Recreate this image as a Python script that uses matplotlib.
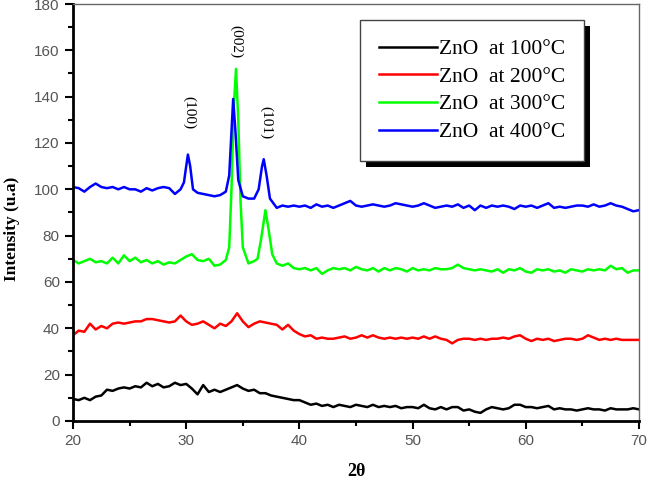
import matplotlib
matplotlib.use('Agg')
import matplotlib.pyplot as plt
from matplotlib.patches import Rectangle
from matplotlib.ticker import MultipleLocator
from matplotlib.transforms import IdentityTransform

# 2theta grid, and the four patterns
two_theta = [20, 20.5, 21, 21.5, 22, 22.5, 23, 23.5, 24, 24.5, 25, 25.5, 26, 26.5, 27, 27.5,
             28, 28.5, 29, 29.5, 30, 30.5, 31, 31.5, 32, 32.5, 33, 33.5, 34, 34.5, 35, 35.5,
             36, 36.5, 37, 37.5, 38, 38.5, 39, 39.5, 40, 40.5, 41, 41.5, 42, 42.5, 43, 43.5,
             44, 44.5, 45, 45.5, 46, 46.5, 47, 47.5, 48, 48.5, 49, 49.5, 50, 50.5, 51, 51.5,
             52, 52.5, 53, 53.5, 54, 54.5, 55, 55.5, 56, 56.5, 57, 57.5, 58, 58.5, 59, 59.5,
             60, 60.5, 61, 61.5, 62, 62.5, 63, 63.5, 64, 64.5, 65, 65.5, 66, 66.5, 67, 67.5,
             68, 68.5, 69, 69.5, 70]

zno_100 = [9.5, 9, 10, 9, 10.5, 11, 13.5, 13, 14, 14.5, 14, 15, 14.5, 16.5, 15, 16,
           14.5, 15, 16.5, 15.5, 16, 14, 11.5, 15.5, 12.5, 13.5, 12.5, 13.5, 14.5, 15.5, 14, 13,
           13.5, 12, 12, 11, 10.5, 10, 9.5, 9, 9, 8, 7, 7.5, 6.5, 7, 6, 7,
           6.5, 6, 7, 6.5, 6, 7, 6, 6.5, 6, 6.5, 5.5, 6, 6, 5.5, 7, 5.5,
           5, 6, 5, 6, 6, 4.5, 5, 4, 3.5, 5, 6, 5.5, 5, 5.5, 7, 7,
           6, 6, 5.5, 6, 6.5, 5, 5.5, 5, 5, 4.5, 5, 5.5, 5, 5, 4.5, 5.5,
           5, 5, 5, 5.5, 5]

zno_200 = [37, 39, 38.5, 42, 39.5, 41, 40, 42, 42.5, 42, 42.5, 43, 43, 44, 44, 43.5,
           43, 42.5, 43, 45.5, 43, 41.5, 42, 43, 41.5, 40, 42, 41, 43, 46.5, 43, 40.5,
           42, 43, 42.5, 42, 41.5, 39.5, 41.5, 39, 37.5, 36.5, 37, 35.5, 36, 35.5, 35.5, 36,
           36.5, 35.5, 36, 37, 36, 37, 36, 35.5, 36, 35.5, 36, 35.5, 36, 35.5, 36.5, 35.5,
           36.5, 35.5, 35, 33.5, 35, 35.5, 35.5, 35, 35.5, 35, 35.5, 35.5, 36, 35.5, 36.5, 37,
           35.5, 34.5, 35.5, 35, 35.5, 34.5, 35, 35.5, 35.5, 35, 35.5, 37, 36, 35, 35.5, 35,
           35.5, 35, 35, 35, 35]

# 300 and 400 degC carry the peaks, so they get extra points around them
two_theta_300 = [20, 20.5, 21, 21.5, 22, 22.5, 23, 23.5, 24, 24.5, 25, 25.5, 26, 26.5, 27, 27.5,
                 28, 28.5, 29, 29.5, 30, 30.5, 31, 31.5, 32, 32.5, 33, 33.5, 33.8, 34.0, 34.2, 34.4,
                 34.6, 34.8, 35.0, 35.5, 36, 36.3, 36.6, 37.0, 37.3, 37.6, 38, 38.5, 39, 39.5,
                 40, 40.5, 41, 41.5, 42, 42.5, 43, 43.5, 44, 44.5, 45, 45.5, 46, 46.5, 47, 47.5,
                 48, 48.5, 49, 49.5, 50, 50.5, 51, 51.5, 52, 52.5, 53, 53.5, 54, 54.5, 55, 55.5,
                 56, 56.5, 57, 57.5, 58, 58.5, 59, 59.5, 60, 60.5, 61, 61.5, 62, 62.5, 63, 63.5,
                 64, 64.5, 65, 65.5, 66, 66.5, 67, 67.5, 68, 68.5, 69, 69.5, 70]
zno_300 = [69.5, 68, 69, 70, 68.5, 69, 68, 70.5, 68, 71.5, 69, 70.5, 68.5, 69.5, 68, 69,
           67.5, 68.5, 68, 69.5, 71, 72, 69.5, 69, 70, 67, 67.5, 69.5, 75, 100, 135, 152,
           130, 95, 75, 68, 69, 70, 78, 91, 82, 72, 68, 67, 68, 66,
           65.5, 66, 65, 66, 63.5, 65, 66, 65.5, 66, 65, 66.5, 65.5, 65, 66, 64.5, 66,
           65, 66, 65.5, 64.5, 66, 65, 65.5, 65, 66, 65.5, 65.5, 66, 67.5, 66, 65.5, 65,
           65.5, 65, 64.5, 65.5, 64, 65.5, 65, 66, 64.5, 64, 65.5, 65, 65.5, 64.5, 65, 64,
           65.5, 65, 64.5, 65.5, 65, 65.5, 65, 67, 65.5, 66, 64, 65, 65]

two_theta_400 = [20, 20.5, 21, 21.5, 22, 22.5, 23, 23.5, 24, 24.5, 25, 25.5, 26, 26.5, 27, 27.5,
                 28, 28.5, 29, 29.5, 29.8, 30.0, 30.15, 30.35, 30.6, 31, 31.5, 32, 32.5, 33, 33.5,
                 33.8, 34.0, 34.15, 34.35, 34.6, 35, 35.5, 36, 36.4, 36.7, 36.85, 37.1, 37.4, 38,
                 38.5, 39, 39.5, 40, 40.5, 41, 41.5, 42, 42.5, 43, 43.5, 44, 44.5, 45, 45.5,
                 46, 46.5, 47, 47.5, 48, 48.5, 49, 49.5, 50, 50.5, 51, 51.5, 52, 52.5, 53, 53.5,
                 54, 54.5, 55, 55.5, 56, 56.5, 57, 57.5, 58, 58.5, 59, 59.5, 60, 60.5, 61, 61.5,
                 62, 62.5, 63, 63.5, 64, 64.5, 65, 65.5, 66, 66.5, 67, 67.5, 68, 68.5, 69, 69.5, 70]
zno_400 = [101, 100.5, 99, 101, 102.5, 101, 100.5, 101, 100, 101, 100, 100, 99, 100.5, 99.5, 100.5,
           101, 100.5, 98, 100, 103, 110, 115, 110, 100, 98.5, 98, 97.5, 97, 97.5, 99,
           106, 125, 139, 125, 104, 97, 96, 96, 100, 110, 113, 106, 96, 92,
           93, 92.5, 93, 92.5, 93, 92, 93.5, 92.5, 93, 92, 93, 94, 95, 93, 92.5,
           93, 93.5, 93, 92.5, 93, 94, 93.5, 93, 92.5, 93, 94, 93, 92, 92.5, 93, 92.5,
           93.5, 92, 93, 91, 93, 92, 93, 92.5, 93, 92.5, 91.5, 93, 92.5, 93, 92, 93,
           94, 92, 92.5, 92, 92.5, 93, 93, 92.5, 93.5, 92.5, 93, 94, 93, 92.5, 91.5, 90.5, 91]

peak_labels = ['(100)', '(002)', '(101)']
peak_x = [30.3, 34.4, 37.05]
peak_y = [133, 164, 129]

fig = plt.figure(figsize=(6.48, 4.82), dpi=100)
ax = fig.add_axes([0.1127, 0.1266, 0.8733, 0.8651])

ax.plot(two_theta, zno_100, color='black', lw=1.8, label='ZnO  at 100\u00b0C')
ax.plot(two_theta, zno_200, color='#ff0000', lw=1.8, label='ZnO  at 200\u00b0C')
ax.plot(two_theta_300, zno_300, color='#00ff00', lw=1.8, label='ZnO  at 300\u00b0C')
ax.plot(two_theta_400, zno_400, color='#0000ff', lw=1.8, label='ZnO  at 400\u00b0C')

for lab, px, py in zip(peak_labels, peak_x, peak_y):
    ax.text(px, py, lab, rotation=270, ha='center', va='center',
            family='Liberation Serif', fontsize=11)

ax.set_xlim(20, 70)
ax.set_ylim(0, 180)
ax.xaxis.set_major_locator(MultipleLocator(10))
ax.xaxis.set_minor_locator(MultipleLocator(5))
ax.yaxis.set_major_locator(MultipleLocator(20))
ax.yaxis.set_minor_locator(MultipleLocator(10))
ax.tick_params(which='both', direction='out', width=1.5, colors='black',
               labelcolor='#555555', labelsize=11)
ax.tick_params(which='major', length=6)
ax.tick_params(which='minor', length=3.5)
for lbl in ax.get_xticklabels() + ax.get_yticklabels():
    lbl.set_family('Liberation Sans')

ax.spines['left'].set_linewidth(2)
ax.spines['bottom'].set_linewidth(2)
for s in ['top', 'right']:
    ax.spines[s].set_linewidth(1)
    ax.spines[s].set_color('#666666')

ax.set_xlabel('2\u03b8', family='Liberation Serif', fontweight='bold', fontsize=13)
ax.set_ylabel('Intensity (u.a)', family='Liberation Serif', fontweight='bold', fontsize=12.5)
ax.xaxis.set_label_coords(0.5, -0.1)
ax.yaxis.set_label_coords(-0.093, 0.46)

leg = ax.legend(loc='upper left', bbox_to_anchor=(0.507, 0.962), frameon=True, fancybox=False,
                prop={'family': 'Liberation Serif', 'size': 15.5}, handlelength=2.7,
                handletextpad=0.05, labelspacing=0.35, borderpad=0.9, borderaxespad=0)
leg.get_frame().set_edgecolor('#444444')
leg.get_frame().set_linewidth(1)
leg.get_frame().set_alpha(1)
leg.set_zorder(5)

# black drop shadow behind the legend box
fig.canvas.draw()
bb = leg.get_window_extent()
shadow = Rectangle((bb.x0 + 6, bb.y0 - 6), bb.width, bb.height, transform=IdentityTransform(),
                   facecolor='black', edgecolor='none', zorder=4, clip_on=False)
ax.add_artist(shadow)

fig.savefig('out.png', dpi=100)
